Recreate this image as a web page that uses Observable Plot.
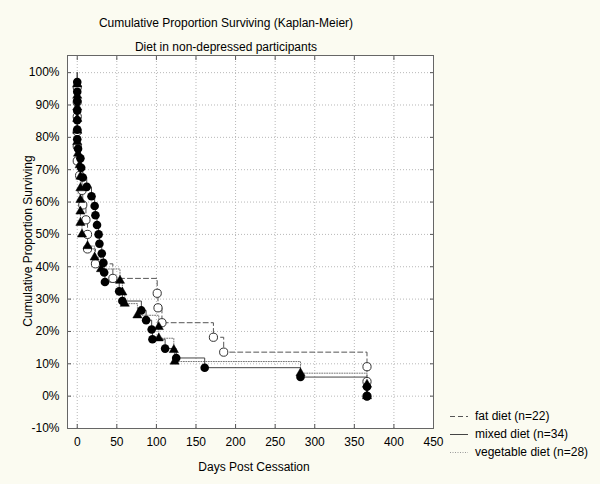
<!DOCTYPE html>
<html><head><meta charset="utf-8">
<script src="https://cdn.jsdelivr.net/npm/d3@7"></script>
<script src="https://cdn.jsdelivr.net/npm/@observablehq/plot@0.6"></script>
<style>
body{margin:0;background:#fbfbf1;}
#wrap{position:relative;width:600px;height:484px;background:#fbfbf1;font-family:"Liberation Sans",Arial,sans-serif;font-size:12px;color:#000;overflow:hidden;}
#wrap svg{position:absolute;left:0;top:0;}
.t{position:absolute;white-space:nowrap;line-height:14px;}
.leg{position:absolute;left:450px;white-space:nowrap;line-height:14px;display:flex;align-items:center;}
.leg svg{position:static !important;margin-right:7px;}
</style></head><body><div id="wrap"></div>
<script>
// ---- data ----
const titleText = "Cumulative Proportion Surviving (Kaplan-Meier)";
const subtitleText = "Diet in non-depressed participants";
const xLabel = "Days Post Cessation";
const yLabel = "Cumulative Proportion Surviving";
const xTicks = [0, 50, 100, 150, 200, 250, 300, 350, 400, 450];
const yTicks = [-10, 0, 10, 20, 30, 40, 50, 60, 70, 80, 90, 100];
const seriesNames = ["fat diet (n=22)", "mixed diet (n=34)", "vegetable diet (n=28)"];

const fatDays = [0,0,0,0,0,0,3,6,7,11,13,13,23,45,101,102,107,172,185,366,366,366];
const fatSurv = [95.5,90.9,86.4,81.8,77.3,72.7,68.2,63.6,59.1,54.5,50.0,45.5,40.9,36.4,31.8,27.3,22.7,18.2,13.6,9.1,4.5,0];

const mixedDays = [0,0,0,0,0,0,0,1,4,5,7,12,18,22,23,25,27,28,31,33,34,35,53,57,81,87,94,95,111,125,161,282,366,366];
const mixedSurv = [97.1,94.1,91.2,88.2,85.3,82.4,79.4,76.5,73.5,70.6,67.6,64.7,61.8,58.8,55.9,52.9,50.0,47.1,44.1,41.2,38.2,35.3,32.4,29.4,26.5,23.5,20.6,17.6,14.7,11.8,8.8,5.9,2.9,0];

const vegDays = [0,0,0,0,0,0,1,3,4,4,4,4,4,6,13,22,30,54,57,60,76,103,103,122,123,282,366,366];
const vegSurv = [96.4,92.9,89.3,85.7,82.1,78.6,75.0,71.4,67.9,64.3,60.7,57.1,53.6,50.0,46.4,42.9,39.3,35.7,32.1,28.6,25.0,21.4,17.9,14.3,10.7,7.1,3.6,0];

// ---- build tables ----
const toRows = (days, surv) => days.map((d, i) => ({day: d, surv: surv[i]}));
const fat = toRows(fatDays, fatSurv);
const mixed = toRows(mixedDays, mixedSurv);
const veg = toRows(vegDays, vegSurv);
const withStart = rows => [{day: 0, surv: 100}, ...rows];

const lineStyles = {
  fat: {stroke: "#555", strokeWidth: 1, strokeDasharray: "5,3"},
  mixed: {stroke: "#444", strokeWidth: 1},
  veg: {stroke: "#777", strokeWidth: 1, strokeDasharray: "1,1.5"}
};

const chart = Plot.plot({
  width: 600, height: 484,
  marginLeft: 67, marginRight: 167, marginTop: 55, marginBottom: 56,
  style: {background: "transparent", fontFamily: '"Liberation Sans", Arial, sans-serif', fontSize: "12px", color: "#000", overflow: "visible"},
  x: {domain: [-12.3, 450]},
  y: {domain: [-10, 105.3]},
  marks: [
    Plot.frame({fill: "white", stroke: "none"}),
    Plot.gridX(xTicks, {stroke: "#b8b8b8", strokeOpacity: 1, strokeDasharray: "1,2"}),
    Plot.gridY(yTicks, {stroke: "#b8b8b8", strokeOpacity: 1, strokeDasharray: "1,2"}),
    Plot.axisX(xTicks, {anchor: "bottom", tickSize: 0, tickPadding: 9, label: null}),
    Plot.axisX(xTicks, {anchor: "top", tickSize: -4, tickFormat: () => "", label: null, stroke: "#555"}),
    Plot.axisX(xTicks, {anchor: "bottom", tickSize: -4, tickFormat: () => "", label: null, stroke: "#555"}),
    Plot.axisY(yTicks, {anchor: "left", tickSize: 0, tickPadding: 8, tickFormat: d => d + "%", label: null}),
    Plot.axisY(yTicks, {anchor: "left", tickSize: -4, tickFormat: () => "", label: null, stroke: "#555"}),
    Plot.axisY(yTicks, {anchor: "right", tickSize: -4, tickFormat: () => "", label: null, stroke: "#555"}),
    Plot.line(withStart(fat), {x: "day", y: "surv", curve: "step-after", ...lineStyles.fat}),
    Plot.line(withStart(veg), {x: "day", y: "surv", curve: "step-after", ...lineStyles.veg}),
    Plot.line(withStart(mixed), {x: "day", y: "surv", curve: "step-after", ...lineStyles.mixed}),
    Plot.dot(fat, {x: "day", y: "surv", r: 4.1, fill: "white", stroke: "#333", strokeWidth: 1}),
    Plot.dot(veg, {x: "day", y: "surv", symbol: "triangle", r: 3.4, fill: "black", stroke: "black", strokeWidth: 0.5}),
    Plot.dot(mixed, {x: "day", y: "surv", r: 4.3, fill: "black", stroke: "none"}),
    Plot.frame({stroke: "#666", strokeWidth: 1})
  ]
});

const wrap = document.getElementById("wrap");
wrap.appendChild(chart);

function addText(txt, css) {
  const d = document.createElement("div");
  d.className = "t";
  d.textContent = txt;
  Object.assign(d.style, css);
  wrap.appendChild(d);
  return d;
}
addText(titleText, {left: "0px", width: "452px", textAlign: "center", top: "16px"});
addText(subtitleText, {left: "0px", width: "452px", textAlign: "center", top: "40px"});
addText(xLabel, {left: "71px", width: "366px", textAlign: "center", top: "460px"});
addText(yLabel, {left: "28px", top: "241px", transform: "translate(-50%,-50%) rotate(-90deg)"});

const legendDash = ["5,3", null, "1,1.5"];
const legendStroke = ["#555", "#444", "#999"];
const legendTop = [409, 427, 445];
seriesNames.forEach((name, i) => {
  const row = document.createElement("div");
  row.className = "leg";
  row.style.top = legendTop[i] + "px";
  const s = d3.create("svg").attr("width", 18).attr("height", 6);
  s.append("line").attr("x1", 0).attr("x2", 18).attr("y1", 3.5).attr("y2", 3.5)
    .attr("stroke", legendStroke[i]).attr("stroke-width", 1)
    .attr("stroke-dasharray", legendDash[i]);
  row.appendChild(s.node());
  const t = document.createElement("span");
  t.textContent = name;
  row.appendChild(t);
  wrap.appendChild(row);
});
</script>
</body></html>
